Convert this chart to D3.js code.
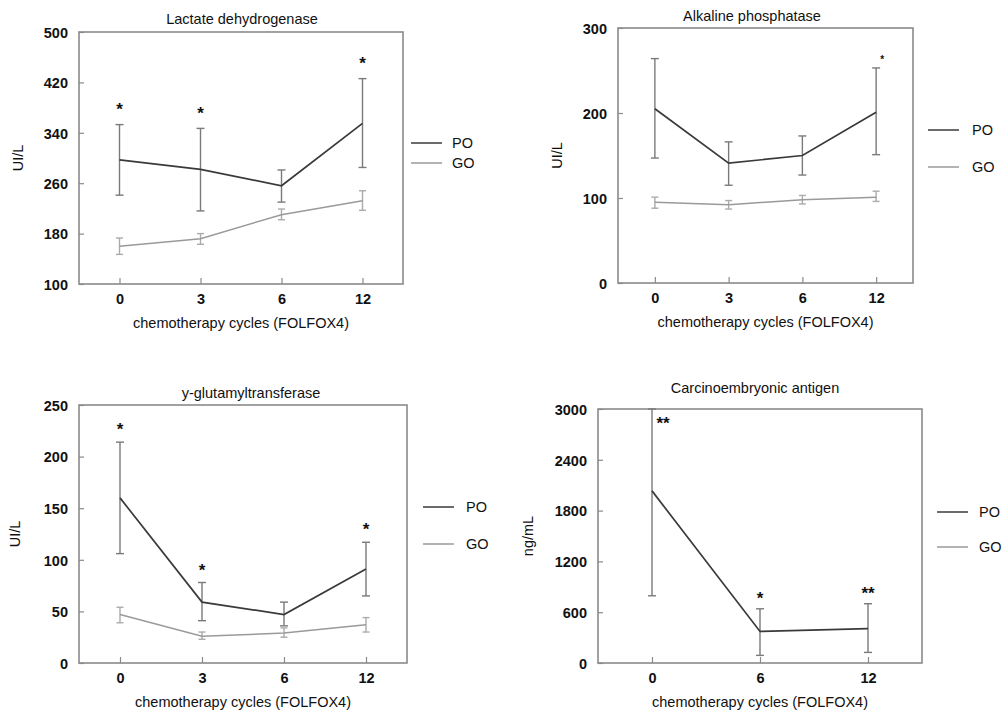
<!DOCTYPE html>
<html lang="en">
<head>
    <meta charset="UTF-8">
    <title>Serum markers during FOLFOX4</title>
    <script src="https://d3js.org/d3.v7.min.js"></script>
    <style>
        body {
            margin: 0;
            background: #fff;
            font-family: Arial, "Liberation Sans", sans-serif;
        }
        svg text {
            fill: #111;
        }
        .title, .axis-label {
            font-size: 14.5px;
        }
        .legend-text {
            font-size: 14.5px;
        }
    </style>
</head>
<body>
    <svg id="chart" width="1003" height="713"></svg>

    <script>
        // Categorias (ciclos de quimioterapia)
        const cycles = ["0", "3", "6", "12"];
        const ceaCycles = ["0", "6", "12"];
        const groups = ["PO", "GO"];

        // Lactate dehydrogenase (UI/L)
        const ldhTicks = [100, 180, 260, 340, 420, 500];
        const ldhPoMean = [297, 282, 256, 355];
        const ldhPoLow = [241, 216, 230, 285];
        const ldhPoHigh = [353, 347, 281, 426];
        const ldhGoMean = [160, 172, 210, 232];
        const ldhGoLow = [147, 163, 202, 217];
        const ldhGoHigh = [173, 180, 219, 248];
        const ldhStars = ["*", "*", "", "*"];

        // Alkaline phosphatase (UI/L)
        const alpTicks = [0, 100, 200, 300];
        const alpPoMean = [205, 141, 150, 201];
        const alpPoLow = [147, 115, 127, 151];
        const alpPoHigh = [264, 166, 173, 253];
        const alpGoMean = [95, 92, 98, 101];
        const alpGoLow = [88, 87, 93, 96];
        const alpGoHigh = [101, 97, 103, 108];
        const alpStars = ["", "", "", "*"];

        // y-glutamyltransferase (UI/L)
        const ggtTicks = [0, 50, 100, 150, 200, 250];
        const ggtPoMean = [160, 59, 47, 91];
        const ggtPoLow = [106, 41, 36, 65];
        const ggtPoHigh = [214, 78, 59, 117];
        const ggtGoMean = [47, 26, 29, 37];
        const ggtGoLow = [39, 23, 25, 30];
        const ggtGoHigh = [54, 30, 34, 44];
        const ggtStars = ["*", "*", "", "*"];

        // Carcinoembryonic antigen (ng/mL) - solo PO
        const ceaTicks = [0, 600, 1200, 1800, 2400, 3000];
        const ceaPoMean = [2033, 373, 405];
        const ceaPoLow = [794, 90, 125];
        const ceaPoHigh = [3000, 640, 700];
        const ceaStars = ["**", "*", "**"];

        const colors = { PO: "#3a3a3a", GO: "#9a9a9a" };
        const barColors = { PO: "#7a7a7a", GO: "#ababab" };

        // Posicion de cada panel en la figura
        const panels = [
            {
                title: "Lactate dehydrogenase", unit: "UI/L", cats: cycles, ticks: ldhTicks,
                series: [
                    { key: "GO", mean: ldhGoMean, low: ldhGoLow, high: ldhGoHigh },
                    { key: "PO", mean: ldhPoMean, low: ldhPoLow, high: ldhPoHigh }
                ],
                stars: ldhStars, starHigh: ldhPoHigh,
                box: { x0: 79, x1: 403, y0: 32, y1: 284 }, titleX: 242, titleY: 24, yLabelX: 18,
                legend: { x0: 411, x1: 442, tx: 452, ys: [143, 163] },
                star: { size: 17, gap: 20, dx: 0 }
            },
            {
                title: "Alkaline phosphatase", unit: "UI/L", cats: cycles, ticks: alpTicks,
                series: [
                    { key: "GO", mean: alpGoMean, low: alpGoLow, high: alpGoHigh },
                    { key: "PO", mean: alpPoMean, low: alpPoLow, high: alpPoHigh }
                ],
                stars: alpStars, starHigh: alpPoHigh,
                box: { x0: 618, x1: 913, y0: 28, y1: 283 }, titleX: 752, titleY: 21, yLabelX: 557,
                legend: { x0: 928, x1: 959, tx: 972, ys: [130, 167] },
                star: { size: 10, gap: 11, dx: 6 }
            },
            {
                title: "y-glutamyltransferase", unit: "UI/L", cats: cycles, ticks: ggtTicks,
                series: [
                    { key: "GO", mean: ggtGoMean, low: ggtGoLow, high: ggtGoHigh },
                    { key: "PO", mean: ggtPoMean, low: ggtPoLow, high: ggtPoHigh }
                ],
                stars: ggtStars, starHigh: ggtPoHigh,
                box: { x0: 79, x1: 407, y0: 405, y1: 663 }, titleX: 251, titleY: 398, yLabelX: 15,
                legend: { x0: 423, x1: 454, tx: 466, ys: [507, 544] },
                star: { size: 17, gap: 17, dx: 0 }
            },
            {
                title: "Carcinoembryonic antigen", unit: "ng/mL", cats: ceaCycles, ticks: ceaTicks,
                series: [
                    { key: "PO", mean: ceaPoMean, low: ceaPoLow, high: ceaPoHigh }
                ],
                stars: ceaStars, starHigh: ceaPoHigh,
                box: { x0: 598, x1: 922, y0: 409, y1: 663 }, titleX: 755, titleY: 393, yLabelX: 528,
                legend: { x0: 937, x1: 968, tx: 979, ys: [512, 547] },
                star: { size: 17, gap: 15, dx: 0 }
            }
        ];

        const svg = d3.select("#chart");

        panels.forEach(drawPanel);

        function drawPanel(p) {
            const b = p.box;
            const g = svg.append("g");

            const x = d3.scalePoint().domain(p.cats).range([b.x0, b.x1]).padding(0.5);
            const y = d3.scaleLinear()
                .domain([p.ticks[0], p.ticks[p.ticks.length - 1]])
                .range([b.y1, b.y0]);

            // ejes con ticks hacia dentro
            const xAxis = g.append("g")
                .attr("transform", "translate(0," + b.y1 + ")")
                .call(d3.axisBottom(x).tickSizeInner(-6).tickSizeOuter(0).tickPadding(6));
            const yAxis = g.append("g")
                .attr("transform", "translate(" + b.x0 + ",0)")
                .call(d3.axisLeft(y).tickValues(p.ticks).tickFormat(d3.format("d"))
                    .tickSizeInner(-5).tickSizeOuter(0).tickPadding(11));

            [xAxis, yAxis].forEach(a => {
                a.select(".domain").remove();
                a.selectAll("line").attr("stroke", "#8a8a8a").attr("stroke-width", 1.2);
                a.selectAll("text")
                    .attr("fill", "#111")
                    .style("font-family", "Arial, 'Liberation Sans', sans-serif")
                    .style("font-size", "14.5px")
                    .style("font-weight", "bold");
            });
            xAxis.selectAll("text").attr("dy", "0.95em");
            yAxis.selectAll("text").attr("dy", "0.36em");

            // marco
            g.append("rect")
                .attr("x", b.x0).attr("y", b.y0)
                .attr("width", b.x1 - b.x0).attr("height", b.y1 - b.y0)
                .attr("fill", "none")
                .attr("stroke", "#8a8a8a")
                .attr("stroke-width", 1.6);

            // series con barras de error
            p.series.forEach(s => {
                const pts = p.cats.map((c, i) => ({ c: c, m: s.mean[i], lo: s.low[i], hi: s.high[i] }));
                const eb = g.append("g").attr("stroke", barColors[s.key]).attr("stroke-width", 1.4);
                const cap = s.key === "PO" ? 4 : 3.5;

                eb.selectAll("line.v").data(pts).enter().append("line")
                    .attr("x1", d => x(d.c)).attr("x2", d => x(d.c))
                    .attr("y1", d => y(d.lo)).attr("y2", d => y(d.hi));
                eb.selectAll("line.hi").data(pts).enter().append("line")
                    .attr("x1", d => x(d.c) - cap).attr("x2", d => x(d.c) + cap)
                    .attr("y1", d => y(d.hi)).attr("y2", d => y(d.hi));
                eb.selectAll("line.lo").data(pts).enter().append("line")
                    .attr("x1", d => x(d.c) - cap).attr("x2", d => x(d.c) + cap)
                    .attr("y1", d => y(d.lo)).attr("y2", d => y(d.lo));

                g.append("path")
                    .datum(pts)
                    .attr("fill", "none")
                    .attr("stroke", colors[s.key])
                    .attr("stroke-width", s.key === "PO" ? 1.7 : 1.5)
                    .attr("d", d3.line().x(d => x(d.c)).y(d => y(d.m)));
            });

            // asteriscos de significacion
            g.selectAll("text.star")
                .data(p.stars.map((t, i) => ({ t: t, c: p.cats[i], hi: p.starHigh[i] })).filter(d => d.t))
                .enter().append("text")
                .attr("class", "star")
                .attr("text-anchor", "middle")
                .style("font-size", p.star.size + "px")
                .style("font-weight", "bold")
                .attr("fill", "#222")
                .attr("x", d => {
                    const top = y(d.hi) - p.star.gap < b.y0;
                    return x(d.c) + p.star.dx + (top ? 11 : 0);
                })
                .attr("y", d => {
                    let cy = y(d.hi) - p.star.gap;
                    if (cy < b.y0) cy = b.y0 + 10;
                    return cy + p.star.size * 0.6;
                })
                .text(d => d.t);

            // titulos
            g.append("text")
                .attr("class", "title")
                .attr("x", p.titleX).attr("y", p.titleY)
                .attr("text-anchor", "middle")
                .text(p.title);

            g.append("text")
                .attr("class", "axis-label")
                .attr("x", (b.x0 + b.x1) / 2).attr("y", b.y1 + 44)
                .attr("text-anchor", "middle")
                .text("chemotherapy cycles (FOLFOX4)");

            g.append("text")
                .attr("class", "axis-label")
                .attr("transform", "translate(" + (p.yLabelX + 5) + "," + ((b.y0 + b.y1) / 2) + ") rotate(-90)")
                .attr("text-anchor", "middle")
                .text(p.unit);

            // leyenda
            const lg = g.append("g");
            groups.forEach((k, i) => {
                lg.append("line")
                    .attr("x1", p.legend.x0).attr("x2", p.legend.x1)
                    .attr("y1", p.legend.ys[i]).attr("y2", p.legend.ys[i])
                    .attr("stroke", colors[k])
                    .attr("stroke-width", 1.5);
                lg.append("text")
                    .attr("class", "legend-text")
                    .attr("x", p.legend.tx).attr("y", p.legend.ys[i])
                    .attr("dy", "0.36em")
                    .text(k);
            });
        }
    </script>
</body>
</html>
